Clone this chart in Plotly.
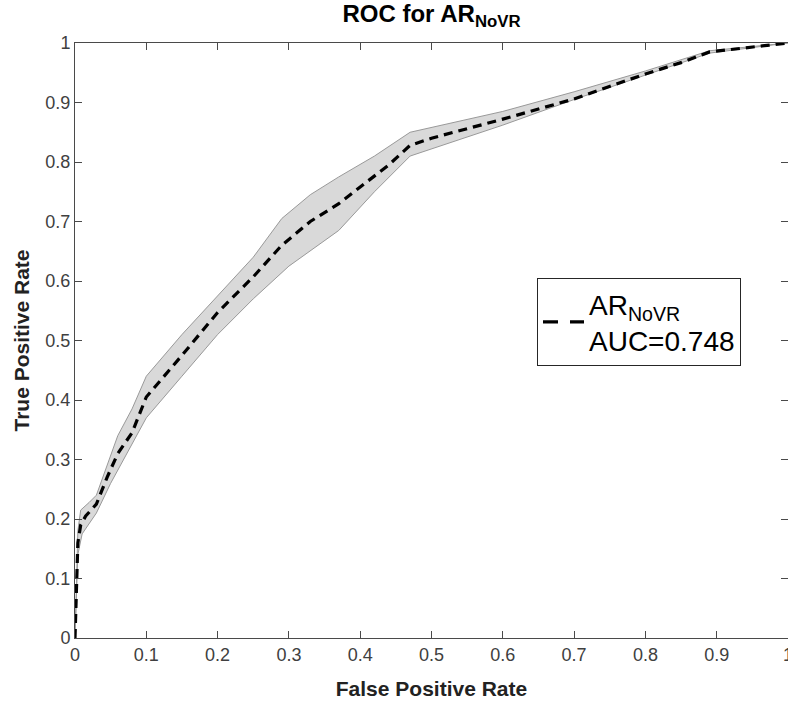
import plotly.graph_objects as go

# Mean ROC curve (false positive rate, true positive rate)
fpr_mean = [0.0, 0.001, 0.002, 0.003, 0.004, 0.008, 0.015, 0.03, 0.045, 0.06, 0.08,
            0.1, 0.15, 0.2, 0.25, 0.29, 0.33, 0.37, 0.40, 0.44, 0.47, 0.5, 0.6,
            0.7, 0.8, 0.85, 0.89, 0.95, 1.0]
tpr_mean = [0.0, 0.03, 0.08, 0.12, 0.16, 0.19, 0.205, 0.225, 0.27, 0.31, 0.345,
            0.405, 0.475, 0.547, 0.607, 0.66, 0.70, 0.73, 0.758, 0.795, 0.828, 0.84, 0.872,
            0.906, 0.948, 0.967, 0.985, 0.993, 1.0]

# Upper edge of the confidence band
fpr_upper = [0.0, 0.002, 0.004, 0.008, 0.02, 0.03, 0.045, 0.06, 0.08, 0.1, 0.15,
             0.2, 0.25, 0.29, 0.33, 0.37, 0.42, 0.47, 0.6, 0.7, 0.8, 0.89, 1.0]
tpr_upper = [0.0, 0.1, 0.18, 0.215, 0.228, 0.24, 0.29, 0.34, 0.385, 0.44, 0.51,
             0.575, 0.64, 0.705, 0.745, 0.775, 0.81, 0.85, 0.885, 0.918, 0.953, 0.987, 1.0]

# Lower edge of the confidence band
fpr_lower = [0.0, 0.004, 0.01, 0.03, 0.05, 0.07, 0.1, 0.15, 0.2, 0.25, 0.3,
             0.37, 0.42, 0.47, 0.6, 0.7, 0.8, 0.89, 1.0]
tpr_lower = [0.0, 0.14, 0.175, 0.21, 0.26, 0.305, 0.37, 0.44, 0.51, 0.57, 0.625,
             0.685, 0.75, 0.81, 0.862, 0.905, 0.946, 0.983, 1.0]

curve_name = "AR<sub>NoVR</sub><br>AUC=0.748"
tick_vals = [i / 10 for i in range(11)]
tick_text = ["0", "0.1", "0.2", "0.3", "0.4", "0.5", "0.6", "0.7", "0.8", "0.9", "1"]

FONT = "Arial, Liberation Sans, Helvetica, sans-serif"
AXIS_COLOR = "#4a4a4a"
ML, MR, MT, MB = 75, 0, 43, 64
W, H = 788, 702
PLOT_W, PLOT_H = W - ML - MR, H - MT - MB

fig = go.Figure()

# confidence band: closed polygon from the lower edge back along the upper edge
fig.add_trace(go.Scatter(
    x=fpr_lower + fpr_upper[::-1], y=tpr_lower + tpr_upper[::-1], mode="lines",
    line=dict(color="#999999", width=1),
    fill="toself", fillcolor="#d9d9d9",
    showlegend=False, hoverinfo="skip",
))

# mean ROC curve
fig.add_trace(go.Scatter(
    x=fpr_mean, y=tpr_mean, mode="lines",
    line=dict(color="black", width=3.2, dash="9px,6px"),
    name=curve_name, showlegend=False,
))

# legend entry for the mean curve (wider dash in the key sample)
fig.add_trace(go.Scatter(
    x=[None], y=[None], mode="lines",
    line=dict(color="black", width=3.4, dash="15px,12px"),
    name=curve_name,
))

axis_common = dict(
    range=[0, 1], automargin=False,
    tickmode="array", tickvals=tick_vals, ticktext=tick_text,
    ticks="inside", ticklen=7, tickwidth=1, tickcolor=AXIS_COLOR,
    showline=True, linecolor=AXIS_COLOR, linewidth=1, mirror="ticks",
    showgrid=False, zeroline=False, ticklabeloverflow="allow",
    tickfont=dict(family=FONT, size=18, color="#404040"),
)

fig.update_layout(
    width=W, height=H,
    margin=dict(l=ML, r=MR, t=MT, b=MB),
    paper_bgcolor="white", plot_bgcolor="white",
    font=dict(family=FONT),
    title=dict(
        text="<b>ROC for AR<sub>NoVR</sub></b>",
        x=(ML + W) / 2 / W, xanchor="center",
        y=1 - 14 / H, yanchor="middle", yref="container",
        font=dict(family=FONT, size=24, color="black"),
    ),
    xaxis=dict(
        **axis_common,
        title=dict(text="<b>False Positive Rate</b>", standoff=17,
                   font=dict(family=FONT, size=21, color="#222222")),
    ),
    yaxis=dict(
        **axis_common,
        title=dict(text="<b>True Positive Rate</b>", standoff=10,
                   font=dict(family=FONT, size=21, color="#222222")),
    ),
    legend=dict(
        x=(537 - ML) / PLOT_W, y=(638 - 278) / PLOT_H, xanchor="left", yanchor="top",
        bgcolor="white", bordercolor="#262626", borderwidth=1,
        font=dict(family=FONT, size=28, color="black"),
        valign="middle", itemwidth=41,
    ),
    showlegend=True,
)

fig.write_html("out.html")
